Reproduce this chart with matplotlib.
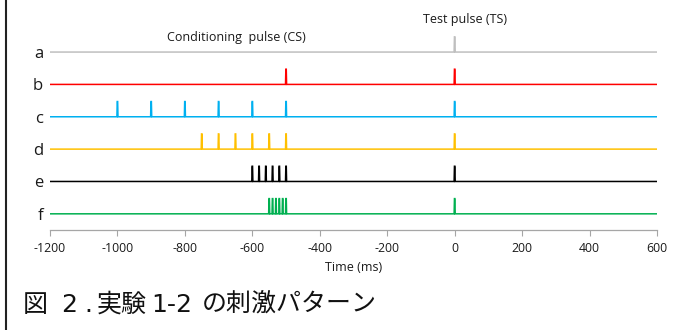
import matplotlib
matplotlib.use("Agg")
import matplotlib.pyplot as plt
from matplotlib.lines import Line2D

row_labels = ["a", "b", "c", "d", "e", "f"]
row_colors = ["#bfbfbf", "#ff0000", "#00b0f0", "#ffc000", "#000000", "#00b050"]
pulse_times = [
    [0],
    [-500, 0],
    [-1000, -900, -800, -700, -600, -500, 0],
    [-750, -700, -650, -600, -550, -500, 0],
    [-600, -580, -560, -540, -520, -500, 0],
    [-550, -540, -530, -520, -510, -500, 0],
]
x_ticks = [-1200, -1000, -800, -600, -400, -200, 0, 200, 400, 600]
x_min, x_max = -1200, 600
spike_height = 0.47
spike_half = 1.6

caption_parts = ["図", "2", ".", "実験", "1-2", "の刺激パターン"]
caption_x = [23, 61, 84, 97, 151, 202]

fig = plt.figure(figsize=(6.86, 3.30), dpi=100)
W, H = 686, 330
ax = fig.add_axes([50 / W, 1 - 230 / H, (657 - 50) / W, (230 - 10) / H])

n = len(row_labels)
for i, (lab, col, times) in enumerate(zip(row_labels, row_colors, pulse_times)):
    base = n - 1 - i
    xs = [x_min]
    ys = [base]
    for t in sorted(times):
        xs += [t - spike_half, t - spike_half * 0.4, t + spike_half * 0.4, t + spike_half]
        ys += [base, base + spike_height, base + spike_height, base]
    xs.append(x_max)
    ys.append(base)
    ax.plot(xs, ys, color=col, lw=1.1, solid_joinstyle="miter")

small = dict(family="Open Sans", color="#1a1a1a")
ax.set_xlim(x_min, x_max)
ax.set_ylim(-0.5, 6.3)
for s in ["top", "right", "left"]:
    ax.spines[s].set_visible(False)
ax.spines["bottom"].set_color("#a6a6a6")
ax.spines["bottom"].set_linewidth(0.9)
ax.set_xticks(x_ticks)
ax.set_xticklabels([str(v) for v in x_ticks], fontsize=8.8, **small)
ax.tick_params(axis="x", direction="out", length=4, width=0.8, color="#a6a6a6", pad=5)
ax.set_yticks([n - 1 - i for i in range(n)])
ax.set_yticklabels(row_labels, fontsize=12, **small)
ax.tick_params(axis="y", length=0, pad=5)
ax.set_xlabel("Time (ms)", fontsize=9, labelpad=4, **small)

fig.text(236 / W, 1 - 37 / H, "Conditioning  pulse (CS)", fontsize=9,
         ha="center", va="center", **small)
fig.text(465 / W, 1 - 20 / H, "Test pulse (TS)", fontsize=9,
         ha="center", va="center", **small)

for part, px in zip(caption_parts, caption_x):
    fam = ["DejaVu Sans", "Noto Sans CJK JP"] if part[0].isascii() else ["Noto Sans CJK JP", "DejaVu Sans"]
    fig.text(px / W, 1 - 311.5 / H, part, fontsize=18, family=fam,
             ha="left", va="baseline", color="#111111")

fig.add_artist(Line2D([5.5 / W, 5.5 / W], [0, 1], transform=fig.transFigure, color="#222222", lw=1.5))

fig.savefig("out.png", dpi=100)
